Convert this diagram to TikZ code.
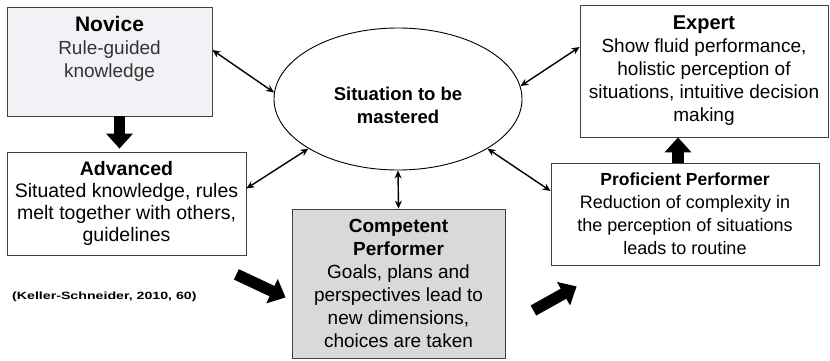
\documentclass[tikz,border=0pt]{standalone}
\usepackage{fontspec}
\setmainfont{Liberation Sans}
\newfontfamily\widesans[FakeStretch=1.35]{Liberation Sans}
\usepackage{tikz}
\usetikzlibrary{arrows.meta}
\usetikzlibrary{positioning}
\usetikzlibrary{shapes}
\definecolor{novicefill}{HTML}{F0F2F5}
\definecolor{compfill}{HTML}{D9D9D9}
\tikzset{
  stagebox/.style = {draw=black!75, line width=0.8pt, fill=white, align=center,
    inner sep=0pt, font=\fontsize{19}{23}\selectfont},% box of one stage
  twoway/.style = {{Stealth[length=8pt,width=7pt]}-{Stealth[length=8pt,width=7pt]},
    line width=1.4pt},% thin double arrow
  bigarrow/.style = {-{Triangle[length=15pt,width=26pt]}, line width=11.5pt}% block arrow
}

\begin{document}
\begin{tikzpicture}[x=1pt,y=-1pt]
\useasboundingbox (0,0) rectangle (830,361);
\node [stagebox, fill=novicefill, minimum width=205pt, minimum height=109pt] (novice) at (109.5,61.5) {};
\node [below=9pt of novice.north, align=center, inner sep=0pt, text=black!80,
  font=\fontsize{19}{23}\selectfont] (novicetext)
  {{\fontsize{21}{23}\selectfont\bfseries\color{black}Novice}\\Rule-guided\\knowledge};
\node [stagebox, minimum width=239pt, minimum height=103pt,
  font=\fontsize{19.5}{22}\selectfont] (advanced) at (126.5,203.5)
  {\textbf{Advanced}\\Situated knowledge, rules\\melt together with others,\\guidelines};
\node [stagebox, fill=compfill, minimum width=213pt, minimum height=149pt] (competent) at (398.5,283.5)
  {\textbf{Competent}\\\textbf{Performer}\\Goals, plans and\\perspectives lead to\\new dimensions,\\choices are taken};
\node [stagebox, minimum width=268pt, minimum height=102pt,
  font=\fontsize{18}{23}\selectfont] (proficient) at (685,214)
  {{\fontsize{17.5}{23}\selectfont\bfseries Proficient Performer}\\Reduction of complexity in\\the perception of situations\\leads to routine};
\node [stagebox, minimum width=248pt, minimum height=132pt] (expert) at (704,71)
  {{\fontsize{20}{23}\selectfont\bfseries Expert}\\Show fluid performance,\\holistic perception of\\situations, intuitive decision\\making};
\node [draw, ellipse, line width=0.9pt, minimum width=248pt, minimum height=142pt, inner sep=0pt] (situation) at (398,99) {};
\node [align=center, inner sep=0pt, font=\fontsize{18.5}{23}\selectfont\bfseries] (situationtext)
  at ([yshift=-6pt]situation.center) {Situation to be\\mastered};
\node [anchor=west, inner sep=0pt, font=\widesans\bfseries\fontsize{10.5}{12}\selectfont] (source) at (12,297)
  {(Keller-Schneider, 2010, 60)};

\draw [twoway] ([yshift=11.5pt]novice.east) -- (situation.177);
\draw [twoway] ([yshift=15pt]advanced.east) -- (situation.209);
\draw [twoway] (situation.south) -- (competent.north);
\draw [twoway] (situation.331) -- ([yshift=23pt]proficient.west);
\draw [twoway] (situation.6) -- ([yshift=24pt]expert.west);

\draw [bigarrow] ([xshift=10pt]novice.south) -- ([xshift=10pt,yshift=3pt]novice.south |- advanced.north);
\draw [bigarrow] ([xshift=-10pt,yshift=-19pt]advanced.south east) -- ([xshift=-6pt,yshift=-14pt]competent.west);
\draw [bigarrow] ([xshift=28pt,yshift=-27pt]competent.east) -- ([xshift=26pt,yshift=-21pt]proficient.south west);
\draw [bigarrow] ([xshift=-7pt]proficient.north) -- ([xshift=-7pt]proficient.north |- expert.south);
\end{tikzpicture}
\end{document}
